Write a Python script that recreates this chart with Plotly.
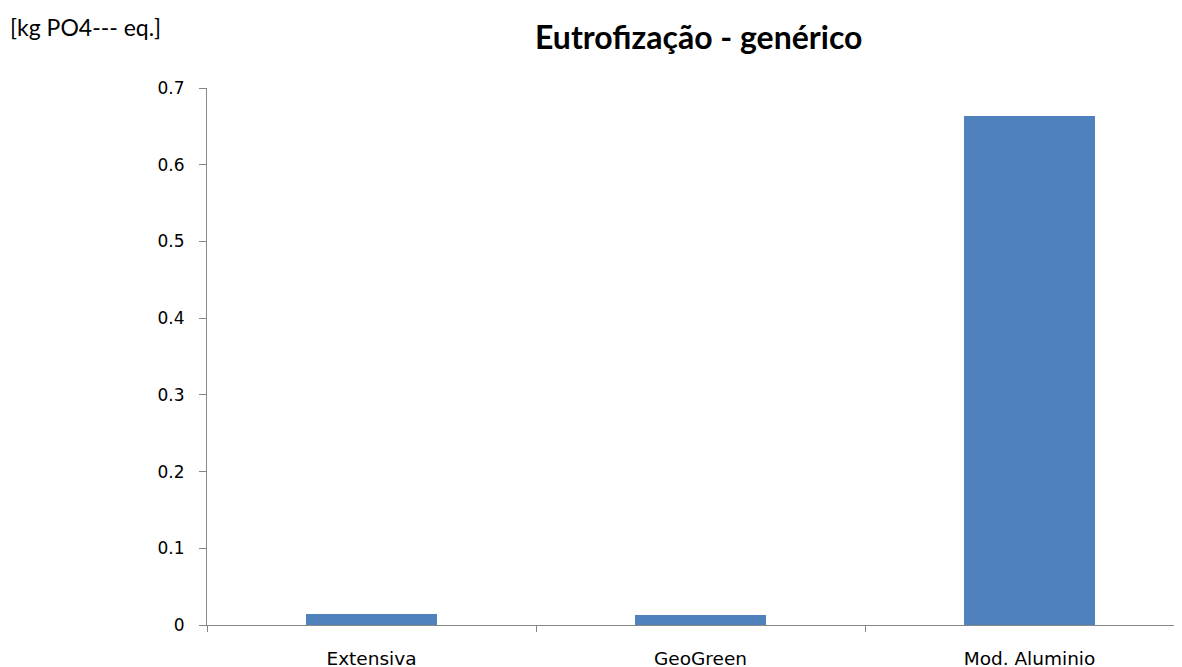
import plotly.graph_objects as go

categories = ["Extensiva", "GeoGreen", "Mod. Aluminio"]
values = [0.0143, 0.0130, 0.663]
y_ticks = [0, 0.1, 0.2, 0.3, 0.4, 0.5, 0.6, 0.7]
y_tick_text = ["0", "0.1", "0.2", "0.3", "0.4", "0.5", "0.6", "0.7"]
title_text = "Eutrofização - genérico"
unit_text = "[kg PO4--- eq.]"

# The html body adds an 8px margin, so the figure is drawn 8px smaller
PAGE_OFF = 8
W, H = 1182 - PAGE_OFF, 667 - PAGE_OFF
L, T, B, R = 207 - PAGE_OFF, 88 - PAGE_OFF, 42, 0
CAT_W = 329  # pixel width of one category slot
PLOT_W = W - L - R
PLOT_H = H - T - B

fig = go.Figure(
    go.Bar(
        x=categories,
        y=values,
        width=0.4,
        marker=dict(color="#4F81BD", line=dict(width=0)),
    )
)

axis_col = "#868686"

fig.update_layout(
    width=W,
    height=H,
    margin=dict(l=L, r=R, t=T, b=B, autoexpand=False),
    paper_bgcolor="white",
    plot_bgcolor="white",
    showlegend=False,
    bargap=0,
    xaxis=dict(
        type="category",
        range=[-0.5, -0.5 + PLOT_W / CAT_W],
        showline=True,
        linecolor=axis_col,
        linewidth=1,
        showgrid=False,
        zeroline=False,
        ticks="outside",
        tickson="boundaries",
        ticklen=6,
        tickcolor=axis_col,
        tickfont=dict(family="DejaVu Sans", size=18.5, color="#000000"),
        ticklabelstandoff=17,
        automargin=False,
    ),
    yaxis=dict(
        range=[0, 0.7],
        tickvals=y_ticks,
        ticktext=y_tick_text,
        showline=True,
        linecolor=axis_col,
        linewidth=1,
        showgrid=False,
        zeroline=False,
        ticks="outside",
        ticklen=7,
        tickcolor=axis_col,
        tickfont=dict(family="DejaVu Sans", size=17, color="#000000"),
        ticklabelstandoff=11,
        automargin=False,
    ),
    annotations=[
        dict(
            text="<b>" + title_text + "</b>",
            xref="paper", yref="paper",
            x=(698 - PAGE_OFF - L) / PLOT_W, y=1 + (T - (36 - PAGE_OFF)) / PLOT_H,
            xanchor="center", yanchor="middle",
            showarrow=False,
            font=dict(family="Lato", size=32, color="#000000"),
        ),
        dict(
            text=unit_text,
            xref="paper", yref="paper",
            x=(0 - L) / PLOT_W, y=1 + (T - (27 - PAGE_OFF)) / PLOT_H,
            xanchor="left", yanchor="middle",
            showarrow=False,
            font=dict(family="Lato", size=23, color="#000000"),
        ),
    ],
)

fig.write_html("out.html")
